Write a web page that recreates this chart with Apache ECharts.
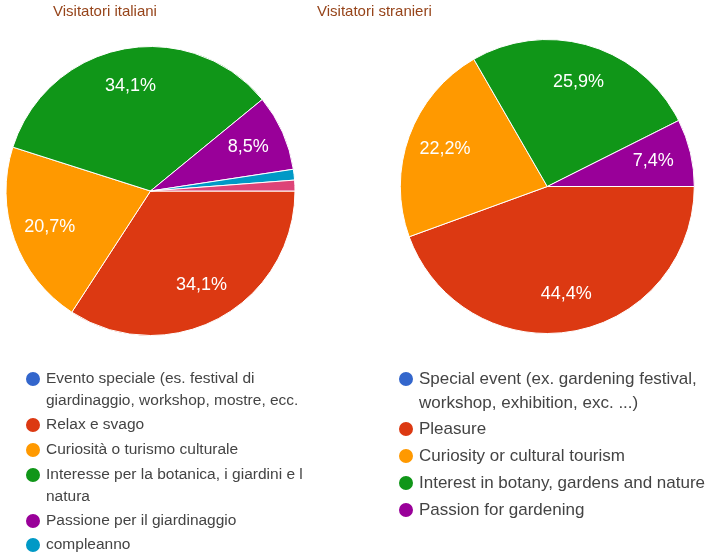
<!DOCTYPE html>
<html>
<head>
<meta charset="utf-8">
<script src="https://cdn.jsdelivr.net/npm/echarts@6/dist/echarts.min.js"></script>
<style>
  html, body { margin: 0; padding: 0; background: #fff; }
  #chart { width: 707px; height: 556px; }
</style>
</head>
<body>
<div id="chart"></div>
<script>
// dati (percentuali), a capo come nella legenda originale
const itCategories = [
  'Evento speciale (es. festival di\ngiardinaggio, workshop, mostre, ecc.',
  'Relax e svago',
  'Curiosità o turismo culturale',
  'Interesse per la botanica, i giardini e l\nnatura',
  'Passione per il giardinaggio',
  'compleanno',
  'Altro'
]
const itValues = [0, 34.1, 20.7, 34.1, 8.5, 1.2, 1.2]

const enCategories = [
  'Special event (ex. gardening festival,\nworkshop, exhibition, exc. ...)',
  'Pleasure',
  'Curiosity or cultural tourism',
  'Interest in botany, gardens and nature',
  'Passion for gardening'
]
const enValues = [0, 44.4, 22.2, 25.9, 7.4]

const sliceColors = ['#3366cc', '#dc3912', '#ff9900', '#109618', '#990099', '#0099c6', '#dd4477']

const titleColor = '#96441a'
const legendColor = '#444'
const font = 'Arial, "Liberation Sans", sans-serif'

let toData = (names, values, labels) => {
  return names.map((n, i) => {
    let item = {name: n, value: values[i]}
    if (labels) {
      item.itemStyle = {color: 'rgba(0,0,0,0)', borderWidth: 0}
      item.label = {show: values[i] >= 5}
    } else {
      item.itemStyle = {color: sliceColors[i]}
    }
    return item
  })
}

let pctLabel = (p) => String(p.value).replace('.', ',') + '%'

let pieSeries = (name, names, values, center, r) => {
  return [
    {
      name: name,
      type: 'pie',
      center: center,
      radius: [0, r],
      startAngle: 0,
      clockwise: true,
      avoidLabelOverlap: false,
      label: {show: false},
      labelLine: {show: false},
      itemStyle: {borderColor: '#fff', borderWidth: 1},
      emphasis: {disabled: true},
      data: toData(names, values, false)
    },
    {
      // solo etichette, a circa 0.72 del raggio
      name: name + '_lbl',
      type: 'pie',
      center: center,
      radius: [r * 0.44, r],
      startAngle: 0,
      clockwise: true,
      silent: true,
      legendHoverLink: false,
      avoidLabelOverlap: false,
      label: {
        position: 'inside',
        formatter: pctLabel,
        color: '#fff',
        fontSize: 18,
        fontFamily: font
      },
      labelLine: {show: false},
      emphasis: {disabled: true},
      data: toData(names, values, true)
    }
  ]
}

// voci su due righe: riga vuota sopra, cosi il pallino resta sulla prima riga
let legendBox = (names, left, top, gap, size, lh, textGap, twoLines) => {
  return {
    orient: 'vertical',
    left: left,
    top: top,
    padding: 0,
    itemGap: gap,
    itemWidth: 16,
    itemHeight: 16,
    itemTextGap: textGap,
    icon: 'circle',
    selectedMode: false,
    formatter: (n) => twoLines ? '\n' + n : n,
    textStyle: {
      color: legendColor,
      fontSize: size,
      lineHeight: lh,
      fontFamily: font
    },
    data: names
  }
}

let chartInstance = echarts.init(document.getElementById('chart'), null, {renderer: 'canvas'})

const initOption = {
  animation: false,
  title: [
    {
      text: 'Visitatori italiani',
      left: 53,
      top: 4,
      padding: 0,
      textStyle: {fontFamily: font, fontSize: 15, fontWeight: 'normal', color: titleColor}
    },
    {
      text: 'Visitatori stranieri',
      left: 317,
      top: 4,
      padding: 0,
      textStyle: {fontFamily: font, fontSize: 15, fontWeight: 'normal', color: titleColor}
    }
  ],
  legend: [
    legendBox([itCategories[0]], 24, 346, 3, 15.5, 22, 6, true),
    legendBox([itCategories[1], itCategories[2]], 24, 414, 3, 15.5, 22, 6, false),
    legendBox([itCategories[3]], 24, 442, 3, 15.5, 22, 6, true),
    legendBox([itCategories[4], itCategories[5]], 24, 510, 2, 15.5, 22, 6, false),
    legendBox([enCategories[0]], 397, 343, 3, 17, 24, 8, true),
    legendBox(enCategories.slice(1), 397, 417, 3, 17, 24, 8, false)
  ],
  series: [
    ...pieSeries('Visitatori italiani', itCategories, itValues, [150.5, 191], 144.5),
    ...pieSeries('Visitatori stranieri', enCategories, enValues, [547.3, 186.5], 147)
  ]
}

chartInstance.setOption(initOption)
</script>
</body>
</html>
